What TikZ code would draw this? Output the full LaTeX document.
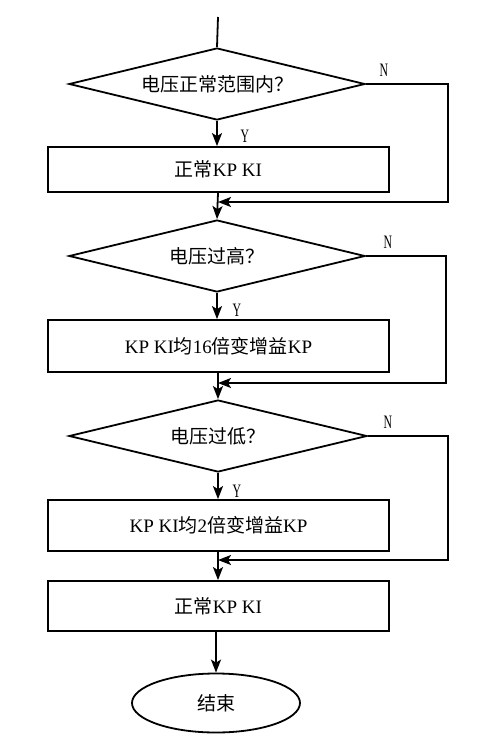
\documentclass[tikz,border=0pt]{standalone}
\usepackage{fontspec}
\setmainfont{Liberation Serif}
\newfontfamily\cjk{Noto Sans CJK SC}
\usetikzlibrary{shapes.geometric,arrows.meta}

\begin{document}
\begin{tikzpicture}[x=1pt,y=-1pt,line width=1.8pt,
        decision/.style={draw,diamond,aspect=4.1,inner sep=0pt,minimum width=296pt,minimum height=72pt,font=\fontsize{19}{22}\selectfont},
        process/.style={draw,rectangle,inner sep=0pt,minimum width=341pt,font=\fontsize{19}{22}\selectfont},
        terminal/.style={draw,ellipse,inner sep=0pt,minimum width=168pt,minimum height=59pt,font=\fontsize{19}{22}\selectfont},
        flow/.style={-{Stealth[length=13pt,width=10pt,inset=3pt]}},
        yn/.style={inner sep=0pt,xscale=0.62,transform shape,font=\fontsize{19}{20}\selectfont}]
            \useasboundingbox (0,0) rectangle (502,737);
            \coordinate (start) at (218,17);
            \node [decision] (range) at (217,84)  {\cjk 电压正常范围内？};
            \node [process, minimum height=45pt] (normA) at (218.5,169.5) {{\cjk 正常}KP KI};
            \node [decision] (high)  at (217,256) {\cjk 电压过高？};
            \node [process, minimum height=52pt] (gainA) at (218.5,346) {KP KI{\cjk 均}16{\cjk 倍变增益}KP};
            \node [decision, minimum width=298pt] (low) at (218,436) {\cjk 电压过低？};
            \node [process, minimum height=51pt] (gainB) at (218.5,525.5) {KP KI{\cjk 均}2{\cjk 倍变增益}KP};
            \node [process, minimum height=50pt] (normB) at (218.5,606) {{\cjk 正常}KP KI};
            \node [terminal] (stop) at (216,703) {\cjk 结束};
            \coordinate (joinA) at (218,202);
            \coordinate (joinB) at (218,383);
            \coordinate (joinC) at (218,560);
            \draw (start) -- (range.north);
            \draw [flow] (range.south) -- (normA.north -| range.south);
            \draw [flow] (normA.south -| joinA) -- (high.north);
            \draw [flow] (high.south) -- (gainA.north -| high.south);
            \draw [flow] (gainA.south -| joinB) -- (low.north);
            \draw [flow] (low.south) -- (gainB.north -| low.south);
            \draw [flow] (gainB.south -| joinC) -- (normB.north -| joinC);
            \draw [flow] (normB.south -| stop.north) -- (stop.north);
            \draw [flow] (range.east) -- ++(82,0) |- (joinA);
            \draw [flow] (high.east)  -- ++(80,0) |- (joinB);
            \draw [flow] (low.east)   -- ++(80,0) |- (joinC);
            \node [yn] (yesA) at (245,136) {Y};
            \node [yn] (yesB) at (237,310) {Y};
            \node [yn] (yesC) at (237,491) {Y};
            \node [yn] (noA)  at (384,70)  {N};
            \node [yn] (noB)  at (388,242) {N};
            \node [yn] (noC)  at (388,422) {N};
        \end{tikzpicture}
\end{document}
